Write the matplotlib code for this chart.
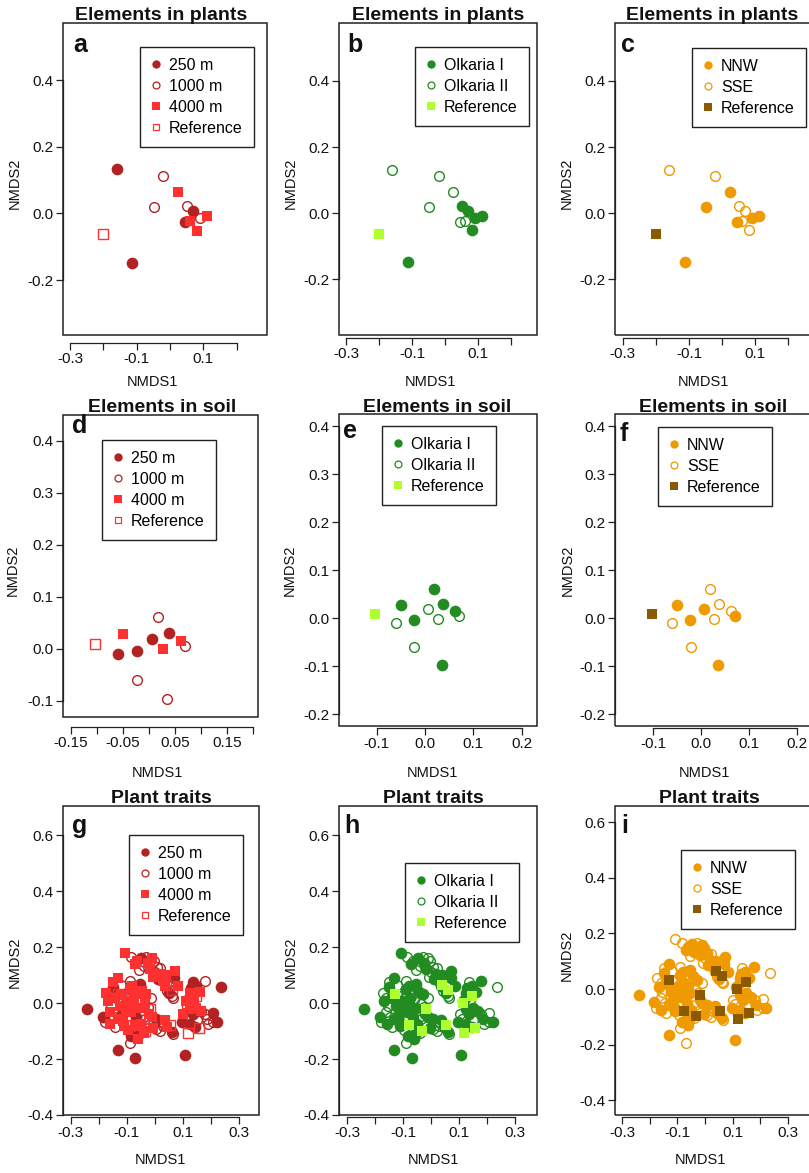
import matplotlib
matplotlib.use('Agg')
import matplotlib.pyplot as plt
from matplotlib.patches import Rectangle
from matplotlib.lines import Line2D

plt.rcParams['font.family'] = ['Liberation Sans', 'DejaVu Sans']

# ---------------- DATA ----------------
# Elements in plants (NMDS scores, 12 sites + reference)
plant_x = [-0.160, -0.113, -0.020, -0.048, 0.024, 0.050, 0.068, 0.046, 0.060, 0.080, 0.090, 0.110, -0.200]
plant_y = [0.132, -0.148, 0.112, 0.020, 0.065, 0.022, 0.008, -0.027, -0.022, -0.052, -0.015, -0.008, -0.063]
plant_dist = ['250 m', '250 m', '1000 m', '1000 m', '4000 m', '1000 m', '250 m', '250 m', '4000 m', '4000 m',
              '1000 m', '4000 m', 'Reference']
plant_site = ['Olkaria II', 'Olkaria I', 'Olkaria II', 'Olkaria II', 'Olkaria II', 'Olkaria I', 'Olkaria I',
              'Olkaria II', 'Olkaria II', 'Olkaria I', 'Olkaria I', 'Olkaria I', 'Reference']
plant_dir = ['SSE', 'NNW', 'SSE', 'NNW', 'NNW', 'SSE', 'SSE', 'NNW', 'SSE', 'SSE', 'NNW', 'NNW', 'Reference']

# Elements in soil
soil_x = [-0.060, -0.023, 0.007, 0.038, 0.018, -0.022, 0.035, 0.070, -0.050, 0.028, 0.062, -0.103]
soil_y = [-0.010, -0.004, 0.019, 0.031, 0.061, -0.060, -0.097, 0.006, 0.028, -0.001, 0.015, 0.010]
soil_dist = ['250 m', '250 m', '250 m', '250 m', '1000 m', '1000 m', '1000 m', '1000 m', '4000 m', '4000 m',
             '4000 m', 'Reference']
soil_site = ['Olkaria II', 'Olkaria I', 'Olkaria II', 'Olkaria I', 'Olkaria I', 'Olkaria II', 'Olkaria I',
             'Olkaria II', 'Olkaria I', 'Olkaria II', 'Olkaria I', 'Reference']
soil_dir = ['SSE', 'NNW', 'NNW', 'SSE', 'SSE', 'SSE', 'NNW', 'NNW', 'NNW', 'SSE', 'SSE', 'Reference']

# Plant traits (individual plants)
trait_x = [-0.107, -0.063, -0.048, -0.030, -0.004, -0.039, -0.018, 0.008, 0.072, 0.018,
           0.000, 0.030, 0.044, 0.060, 0.084, -0.006, 0.012, 0.066, 0.052,
           -0.085, -0.070, -0.055, -0.025, 0.020, 0.040, 0.055, 0.035, 0.070, -0.010,
           -0.131, -0.149, -0.173, -0.167, -0.155, -0.161, -0.179, -0.158, -0.131, -0.113,
           -0.090, -0.090, -0.054, -0.066, -0.102, -0.078, -0.102, -0.054, -0.030, -0.012,
           -0.036, -0.066, -0.036, -0.018, 0.006, 0.006, -0.084, -0.090, -0.060, -0.054,
           -0.131, -0.069, -0.240, -0.183, -0.120, -0.140, -0.080, -0.110, -0.145, -0.070,
           -0.020, -0.040, 0.037, -0.005, 0.061, 0.066, 0.030, -0.095, -0.150,
           -0.120, -0.125, -0.085, -0.060, -0.045, -0.140, -0.095, -0.050, -0.025, -0.010,
           -0.115, -0.075, -0.065, -0.160, 0.020, 0.045,
           0.146, 0.179, 0.125, 0.235, 0.113, 0.149, 0.137, 0.167, 0.209, 0.221,
           0.185, 0.102, 0.096, 0.125, 0.209, 0.108, 0.164, 0.130, 0.150, 0.140,
           0.120, 0.160, 0.125, 0.180, 0.145, 0.110, 0.190, 0.135,
           -0.130, -0.018, -0.077, -0.033, 0.039, 0.061, 0.053, 0.116, 0.148, 0.118, 0.159]
trait_y = [0.180, 0.152, 0.161, 0.164, 0.149, 0.134, 0.122, 0.130, 0.116, 0.104,
           0.110, 0.080, 0.044, 0.026, 0.062, 0.092, 0.086, 0.020, 0.036,
           0.165, 0.140, 0.120, 0.145, 0.125, 0.100, 0.075, 0.060, 0.090, 0.160,
           0.090, 0.056, 0.038, 0.008, -0.010, -0.033, -0.069, -0.075, -0.057, -0.063,
           0.080, 0.050, 0.068, 0.032, 0.008, -0.004, -0.027, -0.016, 0.032, 0.020,
           -0.004, -0.051, -0.057, -0.075, -0.093, -0.057, -0.117, -0.141, -0.129, -0.105,
           -0.167, -0.195, -0.020, -0.048, 0.030, 0.020, 0.060, -0.080, -0.050, -0.080,
           -0.040, -0.105, -0.060, -0.089, -0.104, -0.111, -0.080, 0.015, 0.075,
           0.065, -0.010, -0.030, 0.010, 0.045, -0.085, -0.095, -0.075, -0.015, -0.050,
           -0.040, 0.020, -0.090, 0.020, -0.100, -0.085,
           0.062, 0.080, 0.038, 0.056, 0.008, -0.016, -0.039, -0.027, -0.037, -0.069,
           -0.057, -0.039, -0.069, -0.075, -0.069, -0.185, -0.027, 0.055, -0.060, 0.010,
           0.015, 0.040, -0.020, -0.040, -0.085, -0.055, -0.075, 0.075,
           0.032, -0.022, -0.078, -0.098, 0.066, 0.048, -0.078, 0.001, 0.025, -0.107, -0.088]
trait_dist = ['4000 m', '4000 m', '250 m', '1000 m', '1000 m', '1000 m', '4000 m', '1000 m', '4000 m', '4000 m',
              '1000 m', '4000 m', '1000 m', '1000 m', '4000 m', '4000 m', '250 m', '1000 m', '250 m',
              '1000 m', '4000 m', '1000 m', '4000 m', '1000 m', '4000 m', '1000 m', '4000 m', '250 m', '4000 m',
              '4000 m', '250 m', '4000 m', '4000 m', '1000 m', '4000 m', '1000 m', '4000 m', '4000 m', '4000 m',
              '1000 m', '4000 m', '250 m', '4000 m', '4000 m', '4000 m', '4000 m', '4000 m', '4000 m', '1000 m',
              '4000 m', '250 m', '1000 m', '1000 m', '1000 m', '250 m', '250 m', '1000 m', '4000 m', '250 m',
              '250 m', '250 m', '250 m', '250 m', '4000 m', '4000 m', '4000 m', '4000 m', '1000 m', '4000 m',
              '4000 m', '4000 m', '4000 m', '4000 m', '250 m', '1000 m', '1000 m', '1000 m', '4000 m',
              '1000 m', '4000 m', '4000 m', '1000 m', '4000 m', '1000 m', '4000 m', '4000 m', '1000 m', '4000 m',
              '250 m', '4000 m', '1000 m', '4000 m', '1000 m', '4000 m',
              '250 m', '1000 m', '4000 m', '250 m', '4000 m', '4000 m', '250 m', '1000 m', '250 m', '250 m',
              '1000 m', '4000 m', '250 m', '250 m', '1000 m', '250 m', '4000 m', '250 m', '1000 m', '4000 m',
              '1000 m', '4000 m', '4000 m', '1000 m', '250 m', '1000 m', '1000 m', '250 m',
              'Reference', 'Reference', 'Reference', 'Reference', 'Reference', 'Reference', 'Reference',
              'Reference', 'Reference', 'Reference', 'Reference']
trait_site = ['Olkaria I', 'Olkaria II', 'Olkaria I', 'Olkaria II', 'Olkaria II', 'Olkaria II', 'Olkaria I',
              'Olkaria II', 'Olkaria I', 'Olkaria I',
              'Olkaria II', 'Olkaria I', 'Olkaria II', 'Olkaria II', 'Olkaria I', 'Olkaria II', 'Olkaria I',
              'Olkaria II', 'Olkaria I',
              'Olkaria II', 'Olkaria I', 'Olkaria II', 'Olkaria I', 'Olkaria II', 'Olkaria I', 'Olkaria II',
              'Olkaria I', 'Olkaria I', 'Olkaria II',
              'Olkaria I', 'Olkaria I', 'Olkaria II', 'Olkaria I', 'Olkaria II', 'Olkaria II', 'Olkaria II',
              'Olkaria I', 'Olkaria I', 'Olkaria I',
              'Olkaria II', 'Olkaria I', 'Olkaria I', 'Olkaria II', 'Olkaria I', 'Olkaria I', 'Olkaria I',
              'Olkaria I', 'Olkaria I', 'Olkaria II',
              'Olkaria II', 'Olkaria I', 'Olkaria II', 'Olkaria II', 'Olkaria II', 'Olkaria I', 'Olkaria I',
              'Olkaria II', 'Olkaria I', 'Olkaria I',
              'Olkaria I', 'Olkaria I', 'Olkaria I', 'Olkaria I', 'Olkaria II', 'Olkaria I', 'Olkaria I',
              'Olkaria I', 'Olkaria II', 'Olkaria II',
              'Olkaria I', 'Olkaria II', 'Olkaria I', 'Olkaria I', 'Olkaria I', 'Olkaria II', 'Olkaria II',
              'Olkaria II', 'Olkaria II',
              'Olkaria II', 'Olkaria I', 'Olkaria I', 'Olkaria II', 'Olkaria I', 'Olkaria II', 'Olkaria II',
              'Olkaria I', 'Olkaria II', 'Olkaria I',
              'Olkaria I', 'Olkaria I', 'Olkaria II', 'Olkaria II', 'Olkaria II', 'Olkaria I',
              'Olkaria I', 'Olkaria I', 'Olkaria I', 'Olkaria II', 'Olkaria I', 'Olkaria I', 'Olkaria I',
              'Olkaria II', 'Olkaria II', 'Olkaria I',
              'Olkaria I', 'Olkaria II', 'Olkaria I', 'Olkaria I', 'Olkaria II', 'Olkaria I', 'Olkaria I',
              'Olkaria I', 'Olkaria II', 'Olkaria II',
              'Olkaria II', 'Olkaria I', 'Olkaria I', 'Olkaria II', 'Olkaria I', 'Olkaria II', 'Olkaria II',
              'Olkaria II',
              'Reference', 'Reference', 'Reference', 'Reference', 'Reference', 'Reference', 'Reference',
              'Reference', 'Reference', 'Reference', 'Reference']
trait_dir = ['SSE', 'NNW', 'NNW', 'SSE', 'NNW', 'NNW', 'NNW', 'NNW', 'NNW', 'NNW',
             'SSE', 'NNW', 'SSE', 'SSE', 'NNW', 'SSE', 'NNW', 'SSE', 'NNW',
             'SSE', 'NNW', 'SSE', 'NNW', 'SSE', 'NNW', 'SSE', 'SSE', 'NNW', 'NNW',
             'NNW', 'NNW', 'SSE', 'NNW', 'SSE', 'SSE', 'SSE', 'NNW', 'NNW', 'NNW',
             'SSE', 'NNW', 'NNW', 'SSE', 'NNW', 'NNW', 'NNW', 'NNW', 'NNW', 'SSE',
             'SSE', 'NNW', 'SSE', 'SSE', 'SSE', 'NNW', 'NNW', 'SSE', 'NNW', 'NNW',
             'NNW', 'SSE', 'NNW', 'NNW', 'SSE', 'NNW', 'NNW', 'NNW', 'SSE', 'SSE',
             'NNW', 'SSE', 'NNW', 'NNW', 'NNW', 'SSE', 'SSE', 'SSE', 'SSE',
             'SSE', 'NNW', 'NNW', 'NNW', 'NNW', 'SSE', 'SSE', 'NNW', 'SSE', 'NNW',
             'NNW', 'NNW', 'SSE', 'SSE', 'SSE', 'NNW',
             'NNW', 'NNW', 'NNW', 'SSE', 'NNW', 'NNW', 'NNW', 'SSE', 'SSE', 'NNW',
             'NNW', 'SSE', 'NNW', 'NNW', 'SSE', 'NNW', 'NNW', 'NNW', 'SSE', 'SSE',
             'SSE', 'NNW', 'NNW', 'SSE', 'NNW', 'SSE', 'SSE', 'SSE',
             'Reference', 'Reference', 'Reference', 'Reference', 'Reference', 'Reference', 'Reference',
             'Reference', 'Reference', 'Reference', 'Reference']

titles = ['Elements in plants', 'Elements in soil', 'Plant traits']
panel_letters = ['a', 'b', 'c', 'd', 'e', 'f', 'g', 'h', 'i']
dist_levels = ['250 m', '1000 m', '4000 m', 'Reference']
site_levels = ['Olkaria I', 'Olkaria II', 'Reference']
dir_levels = ['NNW', 'SSE', 'Reference']

# ---------------- STYLES ----------------
DR, BR = '#B22222', '#FF3030'
GR, LG = '#228B22', '#ADFF2F'
OR, BN = '#EE9A00', '#8B5A00'
AXC = '#222222'


def sty(marker, color, filled):
    return dict(marker=marker, color=color, filled=filled)


dist_sty = {'250 m': sty('o', DR, True), '1000 m': sty('o', DR, False),
            '4000 m': sty('s', BR, True), 'Reference': sty('s', BR, False)}
site_sty = {'Olkaria I': sty('o', GR, True), 'Olkaria II': sty('o', GR, False),
            'Reference': sty('s', LG, True)}
dir_sty = {'NNW': sty('o', OR, True), 'SSE': sty('o', OR, False),
           'Reference': sty('s', BN, True)}

W, H = 809, 1173
fig = plt.figure(figsize=(W / 100, H / 100), dpi=100)


def add_ax(l, t, r, b):
    return fig.add_axes([l / W, 1 - b / H, (r - l) / W, (b - t) / H])


def mk_kwargs(s, size):
    if s['filled']:
        ms = size + (0.4 if s['marker'] == 'o' else -0.2)
        return dict(marker=s['marker'], ms=ms, mfc=s['color'], mec=s['color'], mew=0.0)
    return dict(marker=s['marker'], ms=size - 1.0, mfc='none', mec=s['color'], mew=1.0)


row_plants = dict(yt=[-0.2, 0.0, 0.2, 0.4], xt=[-0.3, -0.2, -0.1, 0.0, 0.1, 0.2],
                  xl=['-0.3', '', '-0.1', '', '0.1', ''])
row_soil_d = dict(yt=[-0.1, 0.0, 0.1, 0.2, 0.3, 0.4],
                  xt=[-0.15, -0.10, -0.05, 0.0, 0.05, 0.10, 0.15, 0.20],
                  xl=['-0.15', '', '-0.05', '', '0.05', '', '0.15', ''])
row_soil = dict(yt=[-0.2, -0.1, 0.0, 0.1, 0.2, 0.3, 0.4], xt=[-0.1, 0.0, 0.1, 0.2],
                xl=['-0.1', '0.0', '0.1', '0.2'])
row_traits = dict(yt=[-0.4, -0.2, 0.0, 0.2, 0.4, 0.6], xt=[-0.3, -0.2, -0.1, 0.0, 0.1, 0.2, 0.3],
                  xl=['-0.3', '', '-0.1', '', '0.1', '', '0.3'])

panels = [
    dict(box=(63, 23, 267, 335), xlim=(-0.321, 0.291), ylim=(-0.365, 0.571), ax_off=8, row=row_plants,
         letter=(73, 51.5), leg=(140, 47), data='plant', grp='dist'),
    dict(box=(339, 23, 537, 335), xlim=(-0.322, 0.278), ylim=(-0.368, 0.575), ax_off=3, row=row_plants,
         letter=(347, 52), leg=(415, 47), data='plant', grp='site'),
    dict(box=(615, 23, 813, 335), xlim=(-0.323, 0.274), ylim=(-0.368, 0.575), ax_off=3, row=row_plants,
         letter=(621, 52), leg=(692, 48), data='plant', grp='dir'),
    dict(box=(63, 415, 258, 717), xlim=(-0.165, 0.210), ylim=(-0.131, 0.449), ax_off=10, row=row_soil_d,
         letter=(72, 433), leg=(102, 440), data='soil', grp='dist'),
    dict(box=(339, 414, 537, 726), xlim=(-0.178, 0.232), ylim=(-0.224, 0.426), ax_off=2, row=row_soil,
         letter=(343, 438), leg=(382, 426), data='soil', grp='site'),
    dict(box=(615, 414, 813, 726), xlim=(-0.180, 0.234), ylim=(-0.224, 0.426), ax_off=2, row=row_soil,
         letter=(620, 441), leg=(658, 427), data='soil', grp='dir'),
    dict(box=(63, 806, 259, 1115), xlim=(-0.3275, 0.3725), ylim=(-0.399, 0.705), ax_off=2, row=row_traits,
         letter=(72, 833), leg=(129, 835), data='trait', grp='dist'),
    dict(box=(339, 806, 537, 1115), xlim=(-0.329, 0.379), ylim=(-0.399, 0.705), ax_off=2, row=row_traits,
         letter=(344, 833), leg=(405, 863), data='trait', grp='site'),
    dict(box=(615, 806, 813, 1115), xlim=(-0.326, 0.391), ylim=(-0.453, 0.658), ax_off=2, row=row_traits,
         letter=(621, 833), leg=(681, 850), data='trait', grp='dir'),
]

datasets = {
    'plant': (plant_x, plant_y, plant_dist, plant_site, plant_dir),
    'soil': (soil_x, soil_y, soil_dist, soil_site, soil_dir),
    'trait': (trait_x, trait_y, trait_dist, trait_site, trait_dir),
}
groupings = {'dist': (2, dist_levels, dist_sty), 'site': (3, site_levels, site_sty),
             'dir': (4, dir_levels, dir_sty)}

for k, p in enumerate(panels):
    l, t, r, b = p['box']
    ax = add_ax(l, t, r, b)
    ax.set_xlim(*p['xlim'])
    ax.set_ylim(*p['ylim'])
    d = datasets[p['data']]
    idx, levels, styles = groupings[p['grp']]
    labels = d[idx]
    for lev in levels:
        xs = [x for x, g in zip(d[0], labels) if g == lev]
        ys = [y for y, g in zip(d[1], labels) if g == lev]
        ax.plot(xs, ys, ls='none', zorder=3, **mk_kwargs(styles[lev], 8.0))
    # box + R-style axes
    for s in ax.spines.values():
        s.set_visible(False)
    ax.add_patch(Rectangle((0, 0), 1, 1, transform=ax.transAxes, fill=False, lw=1.1, ec=AXC,
                           clip_on=False, zorder=6))
    row = p['row']
    ax.set_xticks(row['xt'])
    ax.set_xticklabels(row['xl'])
    ax.set_yticks(row['yt'])
    ax.set_yticklabels(['%.1f' % v for v in row['yt']])
    ax.spines['bottom'].set_visible(True)
    ax.spines['bottom'].set_position(('outward', p['ax_off'] * 0.72))
    ax.spines['bottom'].set_bounds(row['xt'][0], row['xt'][-1])
    ax.spines['left'].set_visible(True)
    ax.spines['left'].set_bounds(row['yt'][0], row['yt'][-1])
    for s in ('bottom', 'left'):
        ax.spines[s].set_color(AXC)
        ax.spines[s].set_linewidth(0.9)
    ax.tick_params(direction='out', length=5, width=0.9, color=AXC, pad=1.5, labelsize=11,
                   labelcolor='#111111')
    # legend
    handles = []
    for lev in levels:
        s = styles[lev]
        if s['filled']:
            handles.append(Line2D([], [], ls='none', marker=s['marker'], ms=6.0 if s['marker'] == 'o' else 5.5,
                                  mfc=s['color'], mec=s['color'], mew=0))
        else:
            handles.append(Line2D([], [], ls='none', marker=s['marker'], ms=5.0,
                                  mfc='none', mec=s['color'], mew=0.9))
    lx, ly = p['leg']
    leg = ax.legend(handles, levels, loc='upper left', bbox_to_anchor=(lx / W, 1 - ly / H),
                    bbox_transform=fig.transFigure, frameon=True, fancybox=False, framealpha=1,
                    edgecolor=AXC, borderpad=0.68, labelspacing=0.38, handlelength=0.6,
                    handletextpad=0.55, borderaxespad=0, fontsize=11.5)
    leg.get_frame().set_linewidth(1.0)
    leg.set_zorder(7)
    # panel letter
    fx, fy = p['letter']
    fig.text(fx / W, 1 - fy / H, panel_letters[k], fontsize=18, fontweight='bold', ha='left',
             va='baseline', color='#111111')

# titles
title_x = [[161, 438, 712], [162, 437, 713], [161, 433, 709]]
title_base = [20.5, 412, 803]
for ri in range(3):
    for ci in range(3):
        fig.text(title_x[ri][ci] / W, 1 - title_base[ri] / H, titles[ri], fontsize=14,
                 fontweight='bold', ha='center', va='baseline', color='#111111')

# axis labels
x1_pos = [[(152, 382), (430, 382), (703, 382)], [(157, 773), (432, 773), (704, 773)],
          [(160, 1160), (433, 1160), (700, 1160)]]
y2_pos = [[(15, 183), (291, 183), (567, 183)], [(13, 570), (290, 570), (568, 570)],
          [(15, 962), (291, 962), (567, 955)]]
for ri in range(3):
    for ci in range(3):
        xx, yy = x1_pos[ri][ci]
        fig.text(xx / W, 1 - yy / H, 'NMDS1', fontsize=10.5, ha='center', va='center', color='#111111')
        xx, yy = y2_pos[ri][ci]
        fig.text(xx / W, 1 - yy / H, 'NMDS2', fontsize=10.5, ha='center', va='center', rotation=90,
                 color='#111111')

fig.savefig('out.png', dpi=100)
